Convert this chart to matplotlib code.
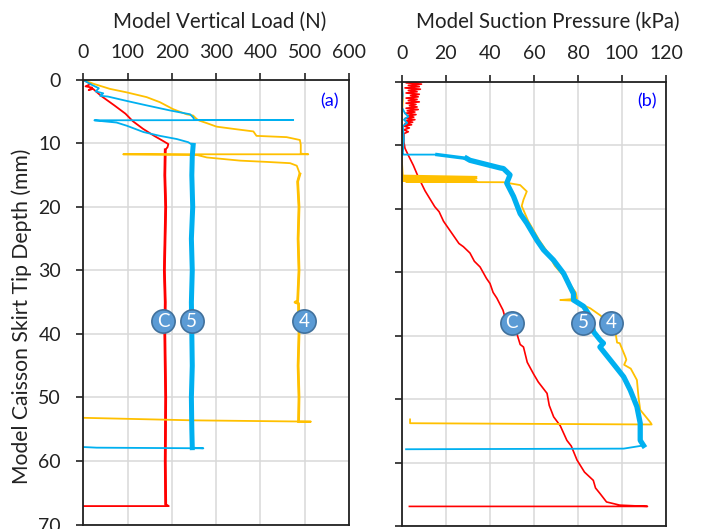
import numpy as np
import matplotlib.pyplot as plt

plt.rcParams['font.family'] = ['Lato', 'DejaVu Sans']

# panel (a): vertical load (N) against skirt tip depth (mm)
load_c = [0, 8, 18, 5, 20, 12, 22, 40, 70, 95, 112, 135, 160, 180, 192, 190, 185,
          184, 186, 183, 185, 184, 186, 185, 186, 193, 0]
depth_c = [0, 0.3, 0.6, 1.0, 1.2, 1.6, 1.4, 2.5, 4.0, 5.3, 6.5, 7.7, 8.8, 9.6, 10.1, 10.6, 11.0,
           15, 20, 30, 35, 40, 50, 60, 66.8, 67.1, 67.1]

load_5 = [0, 20, 35, 28, 45, 38, 55, 98, 143, 196, 241, 248, 251, 474, 25, 45, 75, 98, 136,
          173, 211, 237, 248, 246, 245, 247, 244, 246, 244, 245, 246, 244, 245, 246, 271, 30, 0]
depth_5 = [0, 0.8, 1.3, 1.8, 2.1, 2.5, 2.6, 3.3, 4.0, 4.8, 5.4, 5.9, 6.3, 6.3, 6.35, 6.5, 6.7,
           7.2, 8.2, 8.8, 9.3, 9.8, 10.3, 12, 15, 20, 25, 30, 35, 40, 45, 50, 55, 57.9, 58.0, 57.9, 57.8]

load_4 = [0, 23, 60, 98, 143, 173, 203, 233, 248, 256, 262, 279, 301, 339, 384, 391, 459, 489,
          491, 491, 508, 90, 256, 279, 354, 414, 467, 482, 489, 484, 487, 485, 487, 484, 478, 486,
          487, 485, 487, 486, 514, 250, 0]
depth_4 = [0, 0.6, 1.4, 1.95, 2.7, 3.5, 4.6, 5.4, 5.6, 6.15, 6.4, 6.8, 7.35, 7.7, 8.1, 8.8, 9.0,
           9.45, 10.2, 11.6, 11.7, 11.7, 11.8, 12.2, 12.7, 12.9, 13.1, 13.5, 14.8, 16, 20, 25, 30,
           34.8, 35.0, 35.2, 40, 45, 50, 53.8, 53.8, 53.6, 53.2]

# panel (b): suction pressure (kPa) against skirt tip depth (mm)
suction_c = [10, 2, 9, 3, 8, 1.5, 8.5, 3, 7, 2, 8, 4, 7.5, 2, 7, 3, 8, 2, 6.5, 3.5, 7, 2, 7.5,
             2.5, 6, 1.5, 6.5, 3, 5.5, 1.5, 6, 2, 5, 1.5, 4.5, 1, 3.5, 1, 3, 1, 1, 1.5, 3,
             5.3, 7.5, 10.6, 15, 17, 19, 22, 24, 26, 28, 31, 33, 35.6, 38.5, 40.1, 41.5, 43.2,
             46, 48, 50.8, 52.3, 53.8, 55.3, 57, 59.8, 62, 64, 66, 67, 69, 72, 75, 77, 79.6,
             83, 87, 88, 90.1, 93, 99, 111.6, 3.5]
depth_c_b = [0, 0.2, 0.4, 0.6, 0.8, 1.0, 1.2, 1.4, 1.6, 1.8, 2.0, 2.2, 2.4, 2.6, 2.8, 3.0, 3.2,
             3.4, 3.6, 3.8, 4.0, 4.2, 4.4, 4.6, 4.8, 5.0, 5.2, 5.4, 5.6, 5.8, 6.0, 6.2, 6.4,
             6.6, 6.8, 7.0, 7.3, 7.6, 7.9, 8.2, 9.5, 10.5, 11.6, 13.2, 15.0, 17.2, 19.7, 20.5,
             22, 23.5, 24.5, 25.5, 26, 27, 28.3, 29.2, 31, 31.8, 33.2, 34.1, 36, 38.5, 39.5,
             39.7, 41.4, 41.8, 44.2, 46, 47.3, 48.2, 49.1, 51.0, 52.8, 54.2, 56.5, 57.4, 59.6,
             61.5, 62.8, 64.0, 64.9, 66.2, 66.7, 66.9, 66.9]

suction_5 = [0, 0.5, 0, 1.5, 3, 1, 2.5, 0.5, 1, 0.5, 0.5, 16, 29.5, 31, 44.7, 46.2, 49.2, 47.7,
             50.8, 53.8, 56.8, 61.4, 64.4, 68.9, 73.5, 78, 78, 82.6, 85.6, 87.1, 90.1, 91.6, 90,
             96, 100.8, 103.8, 106.8, 108.3, 108.3, 109.8, 100.8, 2]
depth_5_b = [0, 2, 4, 5, 5.5, 6, 6.5, 7, 9, 11.3, 11.5, 11.5, 12.1, 12.4, 13.6, 13.7, 14.7, 16.0,
             18.1, 20.8, 22.3, 25.0, 26.5, 28.1, 30.2, 33.4, 34.4, 35.4, 37.0, 39.4, 40.7, 41.2,
             41.8, 44.4, 46.5, 48.6, 51.2, 53.8, 56.5, 57.3, 57.8, 57.9]

suction_4 = [0, 0.5, 0, 0.5, 0, 0.5, 34, 0, 34, 0, 33, 0, 34, 2, 46.2, 53.8, 56.8, 55.3, 54.5,
             57.5, 62.5, 65.5, 69.5, 74.5, 79, 79.6, 72, 78, 85.6, 90.1, 94, 97, 97.8, 99, 101.5,
             102, 101, 104, 106.8, 107.5, 108.3, 113, 113.5, 3.8, 3.8]
depth_4_b = [0, 3, 6, 10, 12, 14.8, 15.0, 15.1, 15.25, 15.35, 15.5, 15.6, 15.7, 15.8, 15.85,
             16.3, 17.3, 18.6, 19.6, 22.0, 25.0, 26.5, 29.0, 31.0, 33.2, 34.2, 34.4, 34.5, 35.7,
             36.8, 38, 39.4, 41.1, 41.2, 43.3, 43.8, 44.6, 45.2, 47.0, 49.6, 51.7, 53.7, 54.0,
             53.8, 53.2]

# test labels placed on the curves
tags = ['C', '5', '4']
tag_load = [180, 245, 499]
tag_suction = [50, 82.3, 95]
tag_depth = 38

RED = '#FF0000'
BLUE = '#00B0F0'
GOLD = '#FFC000'
TAGFILL = '#5B9BD5'
TAGEDGE = '#41719C'
FS = 14

fig = plt.figure(figsize=(7.02, 5.29), dpi=100)
ax1 = fig.add_axes([0.1187, 0.0085, 0.3785, 0.8403])
ax2 = fig.add_axes([0.5722, 0.0055, 0.3765, 0.8403])


def style(ax, xmax, xstep, show_y):
    ax.set_xlim(0, xmax)
    ax.set_ylim(70, 0)
    ax.set_xticks(np.arange(0, xmax + 1, xstep))
    ax.set_yticks(np.arange(0, 71, 10))
    ax.xaxis.tick_top()
    ax.tick_params(axis='x', direction='out', length=5, width=1.2, pad=9,
                   labelsize=FS, colors='#222222')
    ax.tick_params(axis='y', direction='out', length=5, width=1.2, pad=11,
                   labelsize=FS, colors='#222222', labelleft=show_y)
    ax.grid(True, color='#D9D9D9', linewidth=1.1)
    ax.set_axisbelow(True)
    for sp in ax.spines.values():
        sp.set_linewidth(1.3)
        sp.set_color('#222222')


style(ax1, 600, 100, True)
style(ax2, 120, 20, False)

# panel (a)
ax1.plot(load_c, depth_c, color=RED, lw=1.3)
ax1.plot(load_c[16:25], depth_c[16:25], color=RED, lw=2.0)
ax1.plot(load_4, depth_4, color=GOLD, lw=1.3)
ax1.plot(load_4[28:40], depth_4[28:40], color=GOLD, lw=2.0)
ax1.plot(load_5, depth_5, color=BLUE, lw=1.3)
ax1.plot(load_5[22:34], depth_5[22:34], color=BLUE, lw=3.6)

# panel (b)
ax2.plot(suction_c, depth_c_b, color=RED, lw=1.2)
ax2.plot(suction_4, depth_4_b, color=GOLD, lw=1.3)
ax2.plot(suction_5, depth_5_b, color=BLUE, lw=1.3)
ax2.plot(suction_5[11:13], depth_5_b[11:13], color=BLUE, lw=2.5)
ax2.plot(suction_5[12:40], depth_5_b[12:40], color=BLUE, lw=3.8)

for ax, xs in ((ax1, tag_load), (ax2, tag_suction)):
    ax.scatter(xs, [tag_depth] * len(xs), s=280, color=TAGFILL, edgecolor=TAGEDGE,
               linewidth=1.2, zorder=5)
    for t, x in zip(tags, xs):
        ax.text(x, tag_depth, t, color='white', fontsize=13.5, ha='center', va='center',
                zorder=6)

ax1.text(555, 3.3, '(a)', color='#0000FF', fontsize=13, ha='center', va='center')
ax2.text(111.5, 3.1, '(b)', color='#0000FF', fontsize=13, ha='center', va='center')

fig.text(220 / 702, 1 - 22 / 529, 'Model Vertical Load (N)', fontsize=14.8,
         ha='center', va='center', color='#222222')
fig.text(548 / 702, 1 - 22 / 529, 'Model Suction Pressure (kPa)', fontsize=14.8,
         ha='center', va='center', color='#222222')
fig.text(21.7 / 702, 1 - 316 / 529, 'Model Caisson Skirt Tip Depth (mm)', fontsize=15.2,
         rotation=90, ha='center', va='center', color='#222222')

fig.savefig('out.png', dpi=100)
